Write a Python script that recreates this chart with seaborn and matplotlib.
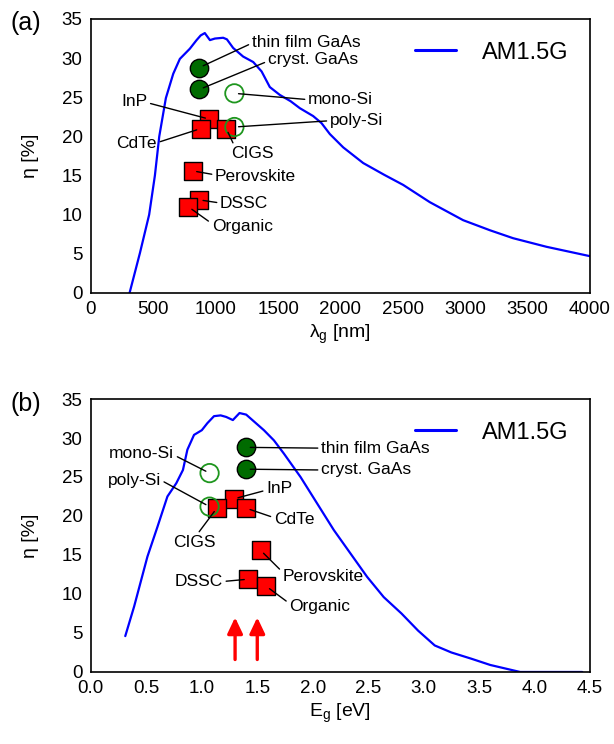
import numpy as np
import pandas as pd
import matplotlib
matplotlib.use("Agg")
import matplotlib.pyplot as plt
import seaborn as sns

# Limiting efficiency under AM1.5G versus absorption edge wavelength
lam_nm = [310, 393, 467, 513, 548, 601, 660, 713, 793, 847, 880, 913, 954, 994,
          1060, 1090, 1140, 1220, 1301, 1368, 1434, 1514, 1600, 1675, 1781, 1848,
          1915, 2022, 2182, 2350, 2503, 2716, 2983, 3200, 3383, 3651, 4000]
eta_lam = [0.0, 5.1, 10.0, 15.0, 20.0, 24.9, 28.0, 29.9, 31.2, 32.3, 32.9, 33.2, 32.3, 32.5,
           32.6, 32.4, 31.3, 30.2, 29.5, 28.3, 26.3, 25.3, 24.5, 23.6, 22.6, 21.7,
           20.3, 18.6, 16.6, 15.1, 13.8, 11.6, 9.3, 8.0, 7.0, 5.9, 4.7]

# Limiting efficiency under AM1.5G versus band gap energy
eg_ev = [0.31, 0.39, 0.51, 0.60, 0.69, 0.77, 0.83, 0.87, 0.93, 1.00, 1.05, 1.11, 1.17,
         1.22, 1.28, 1.34, 1.40, 1.44, 1.56, 1.65, 1.74, 1.89, 2.04, 2.19, 2.34, 2.49,
         2.64, 2.80, 2.95, 3.10, 3.25, 3.43, 3.60, 3.87, 4.43]
eta_eg = [4.6, 8.4, 14.8, 18.6, 22.5, 24.2, 25.9, 28.5, 30.4, 31.0, 31.9, 32.8, 32.9,
          32.7, 32.3, 33.2, 33.0, 32.5, 31.0, 29.7, 28.0, 25.0, 21.6, 18.2, 15.2, 12.2,
          9.6, 7.5, 5.3, 3.4, 2.5, 1.7, 0.9, 0.0, 0.0]

# Record cell efficiencies
cells = ["thin film GaAs", "cryst. GaAs", "mono-Si", "poly-Si", "InP", "CdTe",
         "CIGS", "Perovskite", "DSSC", "Organic"]
cell_kind = ["gaas", "gaas", "si", "si", "sq", "sq", "sq", "sq", "sq", "sq"]
cell_eta = [28.8, 26.0, 25.5, 21.2, 22.2, 21.0, 21.0, 15.6, 11.9, 11.0]
cell_lam = [870, 870, 1150, 1150, 950, 880, 1085, 815, 866, 782]
cell_eg = [1.40, 1.40, 1.07, 1.07, 1.29, 1.40, 1.135, 1.53, 1.42, 1.58]

# Band gaps marked with arrows in panel (b)
arrow_eg = [1.3, 1.5]
arrow_span = [1.6, 7.0]

# Label placements: (x, y, ha, relpos)
labels_a = {
    "thin film GaAs": (1290, 32.0, "left", (0.0, 0.45)),
    "cryst. GaAs": (1418, 29.8, "left", (0.0, 0.4)),
    "mono-Si": (1740, 24.7, "left", (0.0, 0.5)),
    "poly-Si": (1915, 22.0, "left", (0.0, 0.5)),
    "InP": (452, 24.5, "right", (1.0, 0.4)),
    "CdTe": (530, 19.1, "right", (1.0, 0.55)),
    "CIGS": (1125, 17.8, "left", (0.1, 0.85)),
    "Perovskite": (995, 14.9, "left", (0.0, 0.6)),
    "DSSC": (1035, 11.4, "left", (0.0, 0.55)),
    "Organic": (968, 8.5, "left", (0.0, 0.7)),
}
labels_b = {
    "thin film GaAs": (2.075, 28.7, "left", (0.0, 0.5)),
    "cryst. GaAs": (2.075, 25.9, "left", (0.0, 0.5)),
    "mono-Si": (0.75, 28.0, "right", (1.0, 0.4)),
    "poly-Si": (0.63, 24.6, "right", (1.0, 0.5)),
    "InP": (1.58, 23.5, "left", (0.0, 0.4)),
    "CdTe": (1.65, 19.5, "left", (0.0, 0.65)),
    "CIGS": (0.93, 16.6, "center", (0.55, 0.95)),
    "Perovskite": (1.73, 12.2, "left", (0.0, 0.8)),
    "DSSC": (1.19, 11.6, "right", (1.0, 0.5)),
    "Organic": (1.79, 8.4, "left", (0.0, 0.7)),
}

sns.set_style("white")
plt.rcParams["font.family"] = ["Liberation Sans", "DejaVu Sans"]
plt.rcParams["mathtext.fontset"] = "custom"
plt.rcParams["mathtext.rm"] = "Liberation Sans"
plt.rcParams["mathtext.it"] = "Liberation Sans:italic"
for key in ["text.color", "axes.labelcolor", "xtick.color", "ytick.color"]:
    plt.rcParams[key] = "black"

curve_a = pd.DataFrame({"x": lam_nm, "eta": eta_lam})
curve_b = pd.DataFrame({"x": eg_ev, "eta": eta_eg})
cell_df = pd.DataFrame({"name": cells, "kind": cell_kind, "eta": cell_eta,
                        "lam": cell_lam, "eg": cell_eg})

fig = plt.figure(figsize=(6.14, 7.44), dpi=100)
ax_a = fig.add_axes([0.148, 0.6062, 0.813, 0.3683])
ax_b = fig.add_axes([0.148, 0.0968, 0.813, 0.3669])

BLUE = "#0000ff"
DKGREEN = "#006b00"
LTGREEN = "#1e961e"
RED = "#ff0000"


def draw_panel(ax, curve, xcol, labels):
    sns.lineplot(data=curve, x="x", y="eta", ax=ax, color=BLUE, lw=1.6,
                 label="AM1.5G", estimator=None, sort=False, zorder=2)
    sq = cell_df[cell_df.kind == "sq"]
    sns.scatterplot(data=sq, x=xcol, y="eta", ax=ax, marker="s", s=185,
                    color=RED, edgecolor="black", linewidth=1.0, zorder=3,
                    legend=False)
    ga = cell_df[cell_df.kind == "gaas"]
    sns.scatterplot(data=ga, x=xcol, y="eta", ax=ax, marker="o", s=175,
                    color=DKGREEN, edgecolor="black", linewidth=1.0, zorder=3,
                    legend=False)
    si = cell_df[cell_df.kind == "si"]
    sns.scatterplot(data=si, x=xcol, y="eta", ax=ax, marker="o", s=175,
                    facecolor="none", edgecolor=LTGREEN, linewidth=1.3, zorder=4,
                    legend=False)
    for _, row in cell_df.iterrows():
        tx, ty, ha, rp = labels[row["name"]]
        ax.annotate(row["name"], xy=(row[xcol], row["eta"]), xytext=(tx, ty),
                    ha=ha, va="center", fontsize=12.5, zorder=5, color="black",
                    arrowprops=dict(arrowstyle="-", color="black", lw=1.0,
                                    shrinkA=0, shrinkB=3, relpos=rp))
    ax.set_ylim(0, 35)
    ax.set_yticks(np.arange(0, 36, 5))
    ax.set_ylabel("η [%]", fontsize=14, labelpad=16)
    ax.tick_params(direction="in", length=5, width=1.0, labelsize=13.5,
                   top=False, right=False, pad=6, colors="black")
    for sp in ax.spines.values():
        sp.set_color("black")
        sp.set_linewidth(1.2)
    leg = ax.legend(loc="upper right", bbox_to_anchor=(1.0, 0.995), frameon=False,
                    fontsize=17, handlelength=1.75, handletextpad=1.1)
    for h in leg.get_lines():
        h.set_linewidth(2.2)


draw_panel(ax_a, curve_a, "lam", labels_a)
ax_a.set_xlim(0, 4000)
ax_a.set_xticks(np.arange(0, 4001, 500))
ax_a.set_xlabel("λ$_{\\rm g}$ [nm]", fontsize=14, labelpad=3)

draw_panel(ax_b, curve_b, "eg", labels_b)
ax_b.set_xlim(0, 4.5)
ax_b.set_xticks(np.arange(0, 4.51, 0.5))
ax_b.set_xticklabels([f"{v:.1f}" for v in np.arange(0, 4.51, 0.5)])
ax_b.set_xlabel("E$_{\\rm g}$ [eV]", fontsize=14, labelpad=3)

for xa in arrow_eg:
    ax_b.annotate("", xy=(xa, arrow_span[1]), xytext=(xa, arrow_span[0]),
                  arrowprops=dict(arrowstyle="-|>,head_width=0.38,head_length=0.8",
                                  color=RED, lw=2.4, shrinkA=0, shrinkB=0,
                                  mutation_scale=12), zorder=3)

fig.text(0.017, 0.969, "(a)", fontsize=18, ha="left", va="center")
fig.text(0.017, 0.457, "(b)", fontsize=18, ha="left", va="center")

fig.savefig("out.png", dpi=100)
